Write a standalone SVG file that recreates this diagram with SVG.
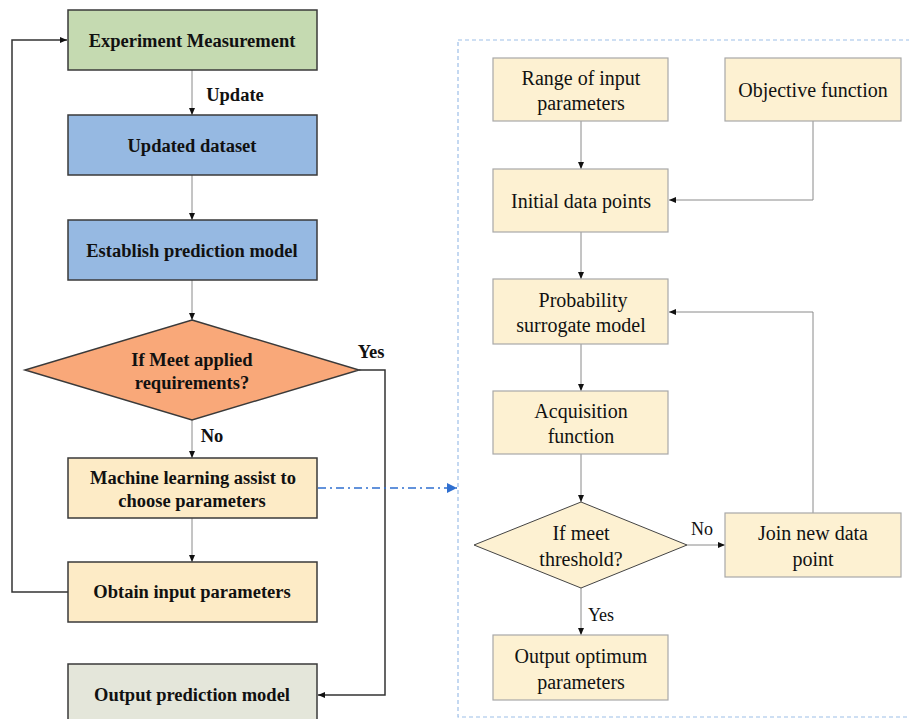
<svg xmlns="http://www.w3.org/2000/svg" width="909" height="719" viewBox="0 0 909 719">
<style>
.lb{stroke:#3a3a3a;stroke-width:1.5}
.rb{fill:#fdf1d2;stroke:#a8a8a8;stroke-width:1.2}
.tb{font-family:"Liberation Serif",serif;font-weight:bold;font-size:18.5px;fill:#111;text-anchor:middle}
.tr{font-family:"Liberation Serif",serif;font-size:20px;fill:#111;text-anchor:middle}
.c{fill:none;stroke:#8a8a8a;stroke-width:1}
.cd{fill:none;stroke:#333;stroke-width:1.5}
</style>
<defs>
<marker id="a" markerWidth="8" markerHeight="8" refX="7" refY="4" orient="auto" markerUnits="userSpaceOnUse"><path d="M0,1 L7,4 L0,7 Z" fill="#111"/></marker>
<marker id="ab" markerWidth="12" markerHeight="12" refX="10" refY="5" orient="auto" markerUnits="userSpaceOnUse"><path d="M0,0 L10,5 L0,10 Z" fill="#2f6fd0"/></marker>
</defs>
<rect x="458" y="40" width="460" height="677" fill="none" stroke="#9dbfe8" stroke-width="1.2" stroke-dasharray="4,3"/>
<g id="connectors">
<path class="c" d="M192,70 V115" marker-end="url(#a)"/>
<path class="c" d="M192,175 V220" marker-end="url(#a)"/>
<path class="c" d="M192,280 V320" marker-end="url(#a)"/>
<path class="c" d="M192,420 V458" marker-end="url(#a)"/>
<path class="c" d="M192,518 V562" marker-end="url(#a)"/>
<path class="cd" d="M68,592 H12 V40 H67" marker-end="url(#a)"/>
<path class="cd" d="M359,370 H385 V695 H318" marker-end="url(#a)"/>
<path d="M318,488 H457" fill="none" stroke="#2f6fd0" stroke-width="1.3" stroke-dasharray="8,4,2,4" marker-end="url(#ab)"/>
<path class="c" d="M581,121 V169" marker-end="url(#a)"/>
<path class="c" d="M813,121 V200 H669" marker-end="url(#a)"/>
<path class="c" d="M581,232 V279" marker-end="url(#a)"/>
<path class="c" d="M581,344 V391" marker-end="url(#a)"/>
<path class="c" d="M581,454 V502" marker-end="url(#a)"/>
<path class="c" d="M687,545 H725" marker-end="url(#a)"/>
<path class="c" d="M813,513 V312 H669" marker-end="url(#a)"/>
<path class="c" d="M581,588 V635" marker-end="url(#a)"/>
<text class="tb" x="235" y="101">Update</text>
<text class="tb" x="371" y="358">Yes</text>
<text class="tb" x="212" y="442">No</text>
<text class="tr" x="702" y="535" style="font-size:18px">No</text>
<text class="tr" x="601" y="621" style="font-size:18px">Yes</text>
</g>
<g id="n1"><rect class="lb" x="68" y="10" width="249" height="60" fill="#c5dab1"/><text class="tb" x="192" y="47">Experiment Measurement</text></g>
<g id="n2"><rect class="lb" x="68" y="115" width="249" height="60" fill="#96b9e2"/><text class="tb" x="192" y="152">Updated dataset</text></g>
<g id="n3"><rect class="lb" x="68" y="220" width="249" height="60" fill="#96b9e2"/><text class="tb" x="192" y="257">Establish prediction model</text></g>
<g id="n4"><path class="lb" d="M192,320 L359,370 L192,420 L25,370 Z" fill="#f9a879"/><text class="tb" x="192" y="366">If Meet applied</text><text class="tb" x="192" y="389">requirements?</text></g>
<g id="n5"><rect class="lb" x="68" y="458" width="249" height="60" fill="#fdebc6"/><text class="tb" x="193" y="484">Machine learning assist to</text><text class="tb" x="192" y="507">choose parameters</text></g>
<g id="n6"><rect class="lb" x="68" y="562" width="249" height="60" fill="#fdebc6"/><text class="tb" x="192" y="598">Obtain input parameters</text></g>
<g id="n7"><rect class="lb" x="68" y="664" width="249" height="70" fill="#e4e6da"/><text class="tb" x="192" y="701">Output prediction model</text></g>
<g id="r1"><rect class="rb" x="493" y="58" width="175" height="63"/><text class="tr" x="581" y="85">Range of input</text><text class="tr" x="581" y="110">parameters</text></g>
<g id="r2"><rect class="rb" x="725" y="58" width="176" height="63"/><text class="tr" x="813" y="97">Objective  function</text></g>
<g id="r3"><rect class="rb" x="493" y="169" width="175" height="63"/><text class="tr" x="581" y="208">Initial data points</text></g>
<g id="r4"><rect class="rb" x="493" y="279" width="175" height="65"/><text class="tr" x="583" y="307">Probability</text><text class="tr" x="581" y="332">surrogate model</text></g>
<g id="r5"><rect class="rb" x="493" y="391" width="175" height="63"/><text class="tr" x="581" y="418">Acquisition</text><text class="tr" x="581" y="443">function</text></g>
<g id="r6"><path d="M581,502 L687,545 L581,588 L474,545 Z" fill="#fdf1d2" stroke="#444" stroke-width="1"/><text class="tr" x="581" y="540">If meet</text><text class="tr" x="581" y="566">threshold?</text></g>
<g id="r7"><rect class="rb" x="725" y="513" width="176" height="64"/><text class="tr" x="813" y="540">Join new data</text><text class="tr" x="813" y="566">point</text></g>
<g id="r8"><rect class="rb" x="493" y="635" width="175" height="65"/><text class="tr" x="581" y="663">Output optimum</text><text class="tr" x="581" y="689">parameters</text></g>
</svg>
